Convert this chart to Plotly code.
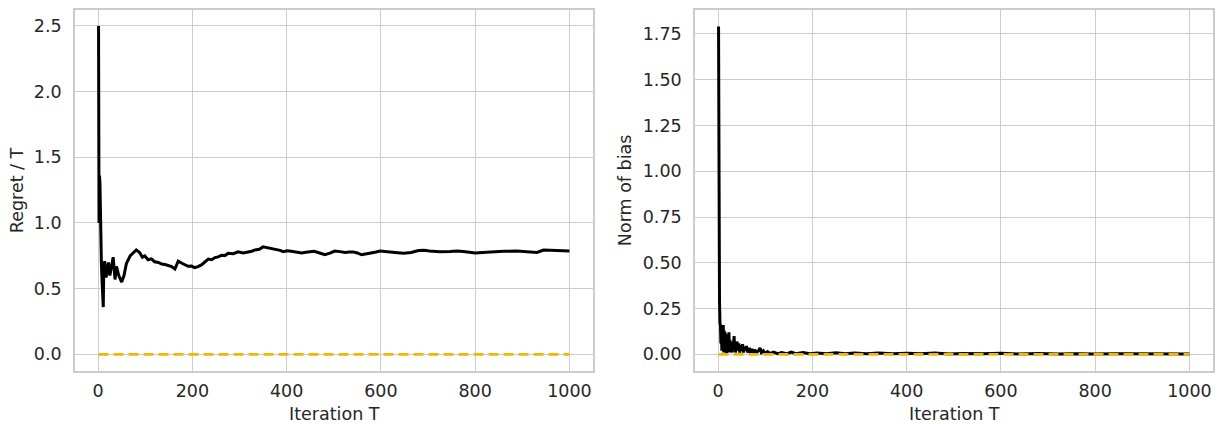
import plotly.graph_objects as go

# ---- Left panel: Regret / T ----
regret_T = [1, 2, 3, 4, 5, 6, 7, 8, 9, 10, 11, 12, 14, 17, 22, 25, 32, 36, 39, 44, 50, 55, 60,
            68, 75, 81, 88, 94, 99, 106, 113, 120, 128, 135, 142, 149, 156, 163, 170, 180,
            191, 198, 205, 212, 220, 227, 234, 241, 248, 255, 262, 269, 276, 287, 297, 308,
            318, 326, 333, 342, 350, 363, 371, 379, 386, 393, 401, 410, 421, 432, 441, 450,
            458, 467, 474, 481, 492, 502, 513, 524, 533, 541, 550, 559, 570, 580, 590, 598,
            606, 615, 630, 648, 664, 680, 692, 703, 725, 747, 761, 775, 788, 800, 816, 832,
            860, 888, 910, 931, 945, 960, 973, 987, 1000]
regret_V = [2.5, 1.0, 1.36, 1.3, 1.0, 0.85, 0.7, 0.6, 0.5, 0.42, 0.36, 0.62, 0.71, 0.585, 0.70,
            0.60, 0.74, 0.57, 0.67, 0.60, 0.55, 0.60, 0.69,
            0.75, 0.775, 0.795, 0.775, 0.74, 0.75, 0.72, 0.727, 0.705, 0.70, 0.687, 0.684,
            0.675, 0.668, 0.65, 0.71, 0.69,
            0.67, 0.672, 0.66, 0.668, 0.683, 0.705, 0.725, 0.72, 0.737, 0.742, 0.755, 0.752,
            0.77, 0.766, 0.78, 0.772,
            0.778, 0.785, 0.795, 0.80, 0.818, 0.81, 0.806, 0.80, 0.792, 0.782, 0.788, 0.785,
            0.778, 0.772, 0.777, 0.782,
            0.784, 0.775, 0.768, 0.758, 0.770, 0.786, 0.782, 0.776, 0.779, 0.78, 0.772, 0.758,
            0.766, 0.77, 0.779, 0.787,
            0.783, 0.78, 0.776, 0.77, 0.776, 0.79, 0.792, 0.787, 0.781, 0.783, 0.786, 0.783,
            0.778, 0.772, 0.776, 0.78,
            0.784, 0.787, 0.783, 0.776, 0.794, 0.792, 0.79, 0.788, 0.787]

# ---- Right panel: Norm of bias ----
bias_T = [1, 2, 3, 4, 5, 6, 7, 8, 9, 10, 11, 12, 13, 14, 15, 16, 17, 18, 19, 20,
          21, 22, 23, 24, 25, 26, 27, 28, 29, 30, 31, 32, 33, 34, 35, 36, 37, 38, 39, 40,
          42, 44, 46, 48, 50, 52, 54, 56, 58, 60, 63, 66, 69, 72, 75, 78, 82, 86, 89, 92,
          96, 100, 105, 110, 118, 126, 135, 145, 155, 165, 180, 195, 210, 230, 250, 270,
          290, 315, 340, 370, 400, 430, 460, 490, 520, 560, 600, 640, 680, 720, 760, 800,
          850, 900, 950, 1000]
bias_V = [1.79, 0.34, 0.30, 0.17, 0.16, 0.06, 0.15, 0.02, 0.14, 0.05, 0.16, 0.01, 0.13, 0.03,
          0.12, 0.02, 0.11, 0.0, 0.10, 0.03,
          0.09, 0.01, 0.12, 0.02, 0.08, 0.01, 0.06, 0.02, 0.05, 0.01, 0.07, 0.03, 0.09, 0.10,
          0.04, 0.06, 0.01, 0.05, 0.02, 0.07,
          0.03, 0.06, 0.01, 0.05, 0.02, 0.055, 0.01, 0.04, 0.02, 0.045, 0.01, 0.035, 0.01,
          0.03, 0.005, 0.025, 0.01, 0.02, 0.035, 0.01,
          0.02, 0.005, 0.015, 0.005, 0.012, 0.004, 0.01, 0.003, 0.012, 0.004, 0.01, 0.003,
          0.008, 0.004, 0.009, 0.003,
          0.007, 0.003, 0.008, 0.004, 0.006, 0.003, 0.007, 0.002, 0.005, 0.003, 0.006, 0.002,
          0.005, 0.002, 0.004, 0.002,
          0.004, 0.002, 0.003, 0.002]

baseline_T = [1, 1000]
baseline_V = [0.0, 0.0]

x_ticks = [0, 200, 400, 600, 800, 1000]
left_y_ticks = [0.0, 0.5, 1.0, 1.5, 2.0, 2.5]
left_y_labels = ["0.0", "0.5", "1.0", "1.5", "2.0", "2.5"]
right_y_ticks = [0.0, 0.25, 0.5, 0.75, 1.0, 1.25, 1.5, 1.75]
right_y_labels = ["0.00", "0.25", "0.50", "0.75", "1.00", "1.25", "1.50", "1.75"]

W, H = 1225, 424
OFF = 8  # page body margin offset
TXT = "#262626"
GRID = "#cccccc"
FONT = "DejaVu Sans"
FS = 17.5


def px_x(p):
    return (p - OFF) / W


def px_y(p):
    return 1 - (p - OFF) / H


fig = go.Figure()
fig.add_trace(go.Scatter(x=regret_T, y=regret_V, mode="lines",
                         line=dict(color="black", width=3), xaxis="x", yaxis="y",
                         showlegend=False))
fig.add_trace(go.Scatter(x=baseline_T, y=baseline_V, mode="lines",
                         line=dict(color="#f2b705", width=2.6, dash="10px,5px"),
                         xaxis="x", yaxis="y", showlegend=False))
fig.add_trace(go.Scatter(x=bias_T, y=bias_V, mode="lines",
                         line=dict(color="black", width=3), xaxis="x2", yaxis="y2",
                         showlegend=False))
fig.add_trace(go.Scatter(x=baseline_T, y=baseline_V, mode="lines",
                         line=dict(color="#f2b705", width=2.6, dash="10px,5px"),
                         xaxis="x2", yaxis="y2", showlegend=False))

ydom = [px_y(371), 1.0]
common_axis = dict(showgrid=True, gridcolor=GRID, gridwidth=1.4, showline=True,
                   linecolor=GRID, linewidth=1.6, mirror=True, zeroline=False,
                   ticks="", tickfont=dict(family=FONT, size=FS, color=TXT))

fig.update_layout(
    width=W, height=H,
    margin=dict(l=0, r=0, t=0, b=0),
    paper_bgcolor="white", plot_bgcolor="white",
    xaxis=dict(domain=[px_x(75), px_x(593)], range=[-48.95, 1049.95], tickvals=x_ticks,
               anchor="y", ticklabelstandoff=3, **common_axis),
    yaxis=dict(domain=ydom, range=[-0.1288, 2.6212], tickvals=left_y_ticks,
               ticktext=left_y_labels, anchor="x", ticklabelstandoff=8, **common_axis),
    xaxis2=dict(domain=[px_x(695), px_x(1213)], range=[-48.95, 1049.95], tickvals=x_ticks,
                anchor="y2", ticklabelstandoff=3, **common_axis),
    yaxis2=dict(domain=ydom, range=[-0.0924, 1.8804], tickvals=right_y_ticks,
                ticktext=right_y_labels, anchor="x2", ticklabelstandoff=8, **common_axis),
    font=dict(family=FONT, size=FS, color=TXT),
)

annots = [
    dict(text="Iteration T", x=px_x(334), y=px_y(414)),
    dict(text="Iteration T", x=px_x(954), y=px_y(414)),
    dict(text="Regret / T", x=px_x(17), y=px_y(189), textangle=-90),
    dict(text="Norm of bias", x=px_x(625), y=px_y(189), textangle=-90),
]
for a in annots:
    fig.add_annotation(xref="paper", yref="paper", showarrow=False,
                       xanchor="center", yanchor="middle",
                       font=dict(family=FONT, size=FS, color=TXT), **a)

fig.write_html("out.html")
